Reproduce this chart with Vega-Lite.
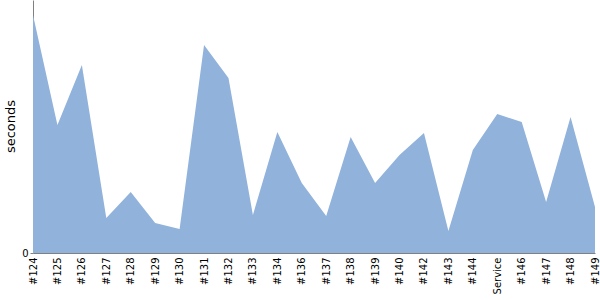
{
  "$schema": "https://vega.github.io/schema/vega-lite/v6.json",
  "width": 562,
  "height": 253,
  "autosize": {"type": "none"},
  "padding": {"left": 33, "top": 0, "right": 5, "bottom": 47},
  "config": {"view": {"stroke": null}, "font": "DejaVu Sans"},
  "data": {"values": [
    {"build": "#124", "seconds": 238},
    {"build": "#125", "seconds": 128},
    {"build": "#126", "seconds": 188},
    {"build": "#127", "seconds": 35},
    {"build": "#128", "seconds": 61},
    {"build": "#129", "seconds": 30},
    {"build": "#130", "seconds": 24},
    {"build": "#131", "seconds": 208},
    {"build": "#132", "seconds": 175},
    {"build": "#133", "seconds": 38},
    {"build": "#134", "seconds": 121},
    {"build": "#136", "seconds": 70},
    {"build": "#137", "seconds": 37},
    {"build": "#138", "seconds": 116},
    {"build": "#139", "seconds": 70},
    {"build": "#140", "seconds": 98},
    {"build": "#142", "seconds": 120},
    {"build": "#143", "seconds": 22},
    {"build": "#144", "seconds": 103},
    {"build": "Service", "seconds": 139},
    {"build": "#146", "seconds": 131},
    {"build": "#147", "seconds": 51},
    {"build": "#148", "seconds": 136},
    {"build": "#149", "seconds": 46}
  ]},
  "mark": {"type": "area", "color": "#91b2db", "opacity": 1, "interpolate": "linear"},
  "encoding": {
    "x": {
      "field": "build", "type": "nominal", "sort": null,
      "scale": {"type": "point", "padding": 0},
      "axis": {"title": null, "labelAngle": -90, "labelAlign": "right", "labelBaseline": "middle", "labelFontSize": 10, "labelColor": "#000000", "labelPadding": 4, "ticks": false, "domainColor": "#808080", "grid": false, "labelOverlap": false}
    },
    "y": {
      "field": "seconds", "type": "quantitative",
      "scale": {"domain": [0, 253], "nice": false},
      "axis": {"title": "seconds", "values": [0], "grid": false, "labelFontSize": 10, "labelColor": "#000000", "tickColor": "#808080", "tickSize": 3, "labelPadding": 2, "domainColor": "#808080", "titleFontSize": 13, "titleFontWeight": "normal", "titleColor": "#000000", "titleAngle": -90, "titleX": -23, "titleY": 126, "titleAlign": "center", "titleBaseline": "middle"}
    }
  }
}
